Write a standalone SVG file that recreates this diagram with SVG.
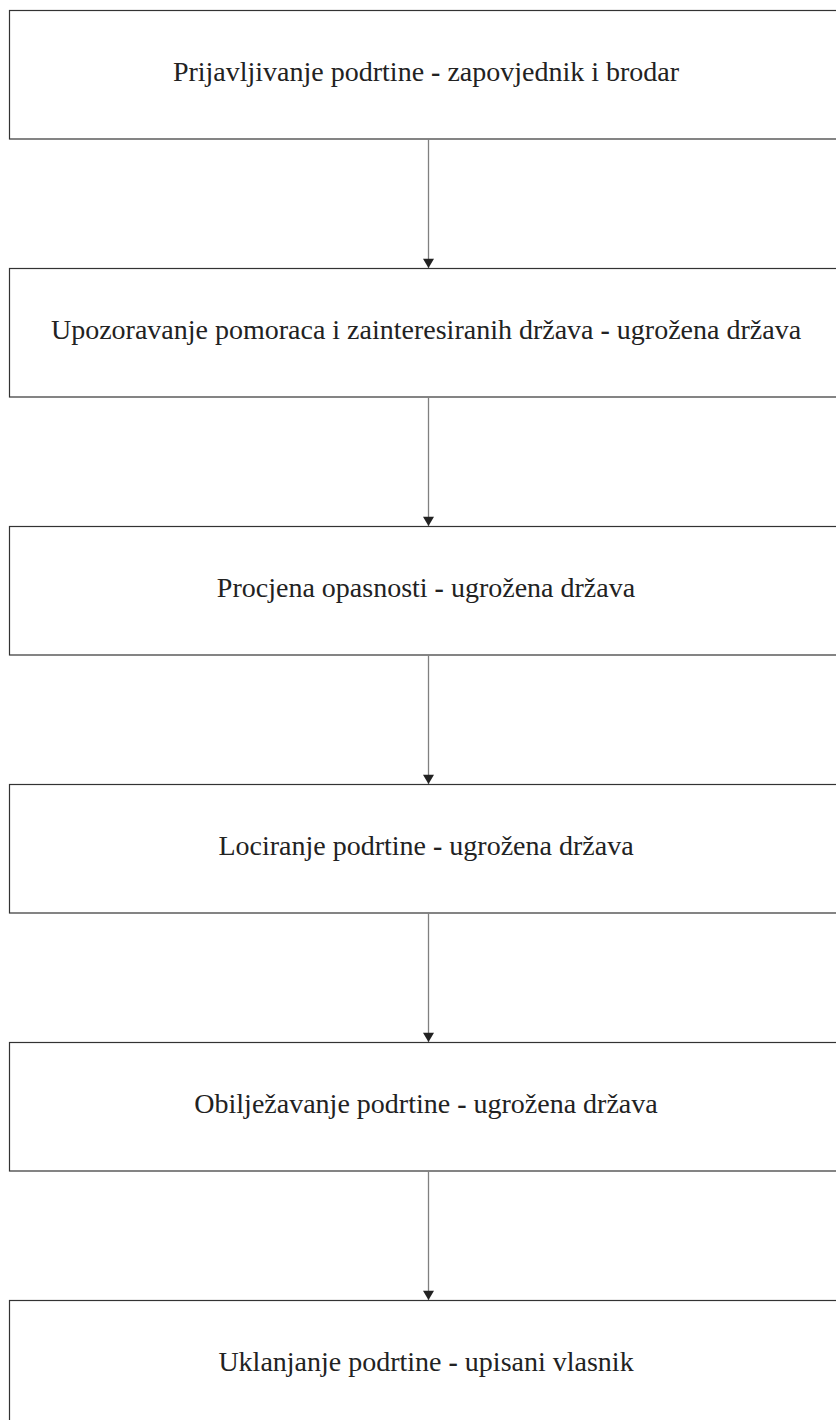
<svg xmlns="http://www.w3.org/2000/svg" width="836" height="1420" viewBox="0 0 836 1420">
<style>
.box{fill:#fff;stroke:#333;stroke-width:1.2}
.lbl{font-family:"Liberation Serif","Times New Roman",serif;font-size:28px;fill:#222;text-anchor:middle}
.b{font-weight:bold}
.conn{stroke:#808080;stroke-width:1.3;fill:none}
</style>
<defs>
<marker id="ah" viewBox="0 0 10 12" refX="10" refY="6" markerWidth="12" markerHeight="11" markerUnits="userSpaceOnUse" orient="auto">
<path d="M0,0 L10,6 L0,12 Z" fill="#222"/>
</marker>
</defs>
<rect width="836" height="1420" fill="#fff"/>
<g id="n1"><rect class="box" x="9.5" y="10.5" width="850" height="128.5"/><text class="lbl" x="426" y="81">Prijavljivanje podrtine <tspan class="b">-</tspan> zapovjednik i brodar</text></g>
<g id="n2"><rect class="box" x="9.5" y="268.5" width="850" height="128.5"/><text class="lbl" x="426" y="339">Upozoravanje pomoraca i zainteresiranih država <tspan class="b">-</tspan> ugrožena država</text></g>
<g id="n3"><rect class="box" x="9.5" y="526.5" width="850" height="128.5"/><text class="lbl" x="426" y="597">Procjena opasnosti <tspan class="b">-</tspan> ugrožena država</text></g>
<g id="n4"><rect class="box" x="9.5" y="784.5" width="850" height="128.5"/><text class="lbl" x="426" y="855">Lociranje podrtine <tspan class="b">-</tspan> ugrožena država</text></g>
<g id="n5"><rect class="box" x="9.5" y="1042.5" width="850" height="128.5"/><text class="lbl" x="426" y="1113">Obilježavanje podrtine <tspan class="b">-</tspan> ugrožena država</text></g>
<g id="n6"><rect class="box" x="9.5" y="1300.5" width="850" height="128.5"/><text class="lbl" x="426" y="1371">Uklanjanje podrtine <tspan class="b">-</tspan> upisani vlasnik</text></g>
<g id="connectors">
<line class="conn" x1="428.5" y1="139" x2="428.5" y2="268" marker-end="url(#ah)"/>
<line class="conn" x1="428.5" y1="397" x2="428.5" y2="526" marker-end="url(#ah)"/>
<line class="conn" x1="428.5" y1="655" x2="428.5" y2="784" marker-end="url(#ah)"/>
<line class="conn" x1="428.5" y1="913" x2="428.5" y2="1042" marker-end="url(#ah)"/>
<line class="conn" x1="428.5" y1="1171" x2="428.5" y2="1300" marker-end="url(#ah)"/>
</g>
</svg>
